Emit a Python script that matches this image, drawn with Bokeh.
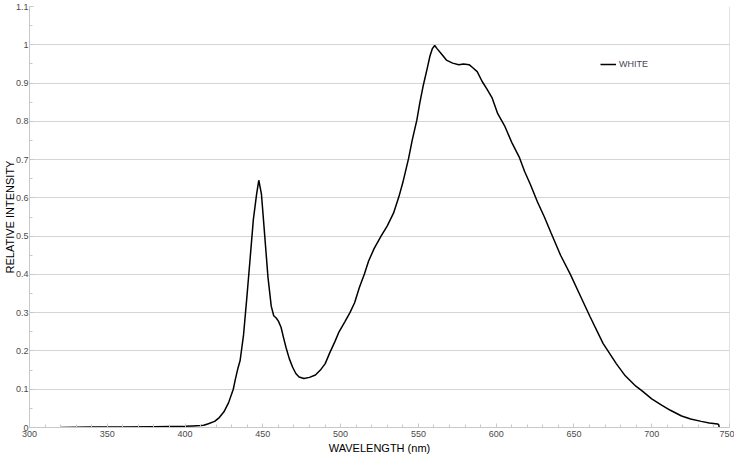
from bokeh.plotting import figure
from bokeh.models import FixedTicker, Span, Legend, LegendItem, Range1d
from bokeh.embed import file_html
from bokeh.resources import INLINE

wavelength = [320, 340, 360, 380, 400, 405, 410, 412, 415, 419, 422, 425, 428, 431,
              432.3, 434, 435.4, 437.6, 439.6, 441.7, 443.9, 446, 447.4, 449.1, 451.2,
              453.3, 455.4, 457, 458.6, 460, 461.7, 463.3, 464.9, 467, 469.1, 471.2,
              473.3, 476.4, 480, 483.8, 487, 490.1, 493, 496.4, 499, 502.7, 506, 509,
              512, 515.3, 518, 521.6, 526, 530, 534, 537.4, 540, 543.7, 546, 549, 551,
              553.2, 555.5, 557.4, 559, 560.5, 562, 565, 568, 572, 576, 579, 582.6,
              585, 587.8, 591, 594, 597.3, 601, 605.7, 610, 615, 618.3, 622, 626.5,
              631, 635.1, 641.4, 647.7, 654, 660.3, 668.7, 677.2, 683, 689.8, 694,
              700, 706.6, 712, 719.2, 725, 731.8, 737, 742.3, 743, 743.4]
intensity = [0.0, 0.001, 0.001, 0.002, 0.003, 0.004, 0.005, 0.006, 0.01, 0.016, 0.026,
             0.041, 0.065, 0.10, 0.125, 0.155, 0.175, 0.242, 0.334, 0.435, 0.543, 0.61,
             0.646, 0.61, 0.502, 0.393, 0.317, 0.292, 0.286, 0.278, 0.262, 0.235, 0.209,
             0.18, 0.158, 0.141, 0.132, 0.128, 0.131, 0.137, 0.15, 0.167, 0.195, 0.225,
             0.25, 0.276, 0.30, 0.326, 0.365, 0.401, 0.435, 0.468, 0.50, 0.527, 0.56,
             0.602, 0.64, 0.703, 0.75, 0.803, 0.85, 0.895, 0.935, 0.97, 0.99, 0.998,
             0.99, 0.975, 0.96, 0.952, 0.948, 0.95, 0.948, 0.94, 0.93, 0.904, 0.885,
             0.862, 0.82, 0.786, 0.745, 0.705, 0.669, 0.635, 0.59, 0.55, 0.51, 0.45,
             0.40, 0.345, 0.29, 0.22, 0.167, 0.135, 0.108, 0.095, 0.075, 0.058, 0.045,
             0.03, 0.022, 0.016, 0.012, 0.009, 0.008, 0.0]

x_ticks = [300, 350, 400, 450, 500, 550, 600, 650, 700, 750]
x_tick_labels = ["300", "350", "400", "450", "500", "550", "600", "650", "700", "750"]
y_ticks = [0, 0.1, 0.2, 0.3, 0.4, 0.5, 0.6, 0.7, 0.8, 0.9, 1.0, 1.1]
y_tick_labels = ["0", "0.1", "0.2", "0.3", "0.4", "0.5", "0.6", "0.7", "0.8", "0.9", "1", "1.1"]
x_minor = list(range(300, 751, 10))
y_minor = [i * 0.05 for i in range(0, 23)]

series_name = "WHITE"

p = figure(width=734, height=456, output_backend="svg", toolbar_location=None,
           x_range=Range1d(300, 750), y_range=Range1d(0, 1.1),
           min_border_left=0, min_border_right=5, min_border_top=6, min_border_bottom=0)
p.outline_line_color = None
p.background_fill_color = "white"
p.border_fill_color = "white"

r = p.line(wavelength, intensity, line_color="black", line_width=1.5)

font = "Liberation Sans"
for ax in (p.xaxis[0], p.yaxis[0]):
    ax.axis_line_color = "#c8c8c8"
    ax.major_tick_line_color = "#c8c8c8"
    ax.minor_tick_line_color = "#c8c8c8"
    ax.major_tick_in = 4
    ax.major_tick_out = 0
    ax.minor_tick_in = 3
    ax.minor_tick_out = 0
    ax.major_label_text_font = font
    ax.major_label_text_font_size = "9px"
    ax.major_label_text_color = "#4a4a4a"
    ax.axis_label_text_font = font
    ax.axis_label_text_font_size = "11px"
    ax.axis_label_text_font_style = "normal"
    ax.axis_label_text_color = "black"

p.xaxis.major_label_standoff = 3
p.xaxis.axis_label_standoff = 2
p.yaxis.major_label_standoff = 1
p.yaxis.axis_label_standoff = -3

p.xaxis.ticker = FixedTicker(ticks=x_ticks, minor_ticks=x_minor)
p.yaxis.ticker = FixedTicker(ticks=y_ticks, minor_ticks=y_minor)
p.xaxis.major_label_overrides = dict(zip(x_ticks, x_tick_labels))
p.yaxis.major_label_overrides = dict(zip(y_ticks, y_tick_labels))
p.xaxis.axis_label = "WAVELENGTH (nm)"
p.yaxis.axis_label = "RELATIVE INTENSITY"

p.xgrid.grid_line_color = None
p.ygrid.grid_line_color = "#d4d4d4"
p.ygrid.grid_line_width = 1

p.add_layout(Span(location=750, dimension="height", line_color="#c8c8c8", line_width=1))

legend = Legend(items=[LegendItem(label=series_name, renderers=[r])],
                location=(571, 358), border_line_color=None, background_fill_alpha=0,
                label_text_font=font, label_text_font_size="9px",
                label_text_color="#4a4458", glyph_width=16, glyph_height=10,
                label_standoff=3, padding=2)
p.add_layout(legend)

open("out.html", "w").write(file_html(p, INLINE))
